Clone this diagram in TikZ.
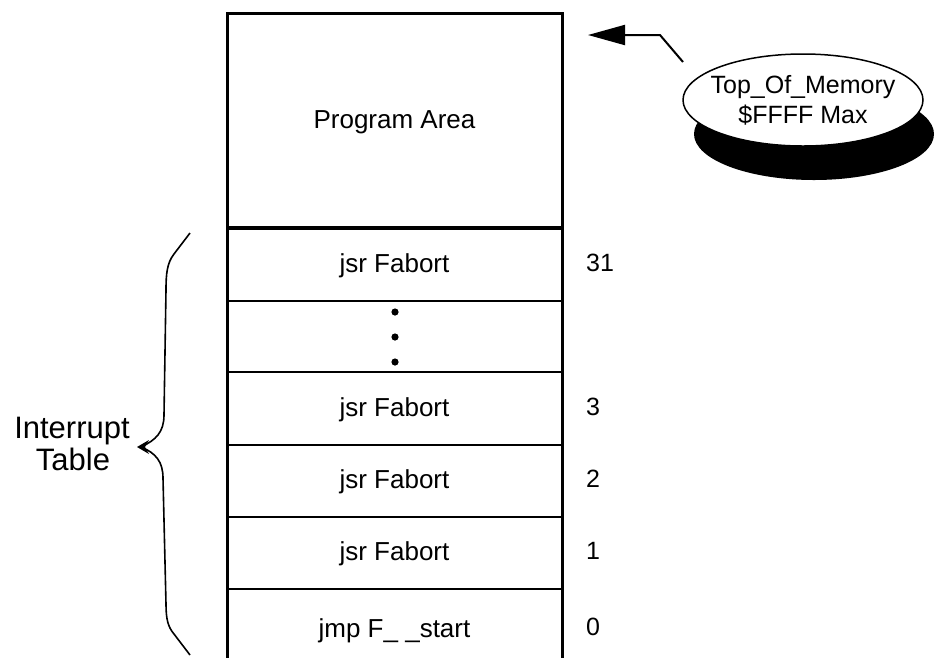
\documentclass[tikz,border=0pt]{standalone}
\usepackage{fontspec}
\setmainfont{Liberation Sans}
\usetikzlibrary{arrows.meta,shapes.geometric}
\tikzset{
  lbl/.style={font=\fontsize{26}{30}\selectfont, inner sep=0pt, anchor=base},
  num/.style={font=\fontsize{25}{30}\selectfont, inner sep=0pt, anchor=base west},
  rowline/.style={line width=2.2pt},
  frame/.style={line width=3pt},
  oval/.style={ellipse, minimum width=240pt, minimum height=92pt, inner sep=0pt},
}
\begin{document}
\begin{tikzpicture}[x=1pt,y=-1pt]
\useasboundingbox (0,0) rectangle (935,657);
% memory box
\draw[frame] (227,662) -- (227,13) -- (562,13) -- (562,662);
\draw[line width=3.6pt] (227,228) -- (562,228);
\foreach \yy in {301,372,445,517,589}{\draw[rowline] (227,\yy) -- (562,\yy);}
% texts
\node[lbl] (prog) at (394.5,128) {Program Area};
\node[lbl] (r31) at (394.5,272) {jsr Fabort};
\node[lbl] (r3) at (394.5,416) {jsr Fabort};
\node[lbl] (r2) at (394.5,488.5) {jsr Fabort};
\node[lbl] (r1) at (394.5,560) {jsr Fabort};
\node[lbl] (r0) at (394.5,637) {jmp F\_ \_start};
\node[num] (n31) at (586,271) {31};
\node[num] (n3) at (586,415) {3};
\node[num] (n2) at (586,487.5) {2};
\node[num] (n1) at (586,559) {1};
\node[num] (n0) at (586,635) {0};
% dots
\foreach \yy in {312,337,362}{\fill (395,\yy) circle (3.6);}
% brace
\draw[line width=1.6pt, line join=round] (190,233) -- (174,254) .. controls (167,263) and (166,274) .. (166,290) -- (164,415) .. controls (164,432) and (156,440) .. (141,447) .. controls (156,453) and (163,462) .. (163,478) -- (166,604) .. controls (166,619) and (168,627) .. (174,634) -- (190,655);
\fill (137,447) -- (149,440) -- (145,447) -- (149,454) -- cycle;
\node[font=\fontsize{31}{30}\selectfont, inner sep=0pt, anchor=base] (it1) at (72,438) {Interrupt};
\node[font=\fontsize{31}{30}\selectfont, inner sep=0pt, anchor=base] (it2) at (73,470) {Table};
% callout
\node[oval, fill=black] (shadow) at (814,134) {};
\node[oval, draw, line width=1.5pt, fill=white] (callout) at (803,100) {};
\node[font=\fontsize{25}{30}\selectfont, align=center, inner sep=0pt] (ctext) at (callout.center) {Top\_Of\_Memory\\\$FFFF Max};
\coordinate (tail) at (683,62);
\coordinate (bend) at (660,35);
\coordinate (tip) at (588,35);
\draw[line width=2pt, -{Triangle[length=37pt,width=20pt]}] (tail) -- (bend) -- (tip);
\end{tikzpicture}
\end{document}
